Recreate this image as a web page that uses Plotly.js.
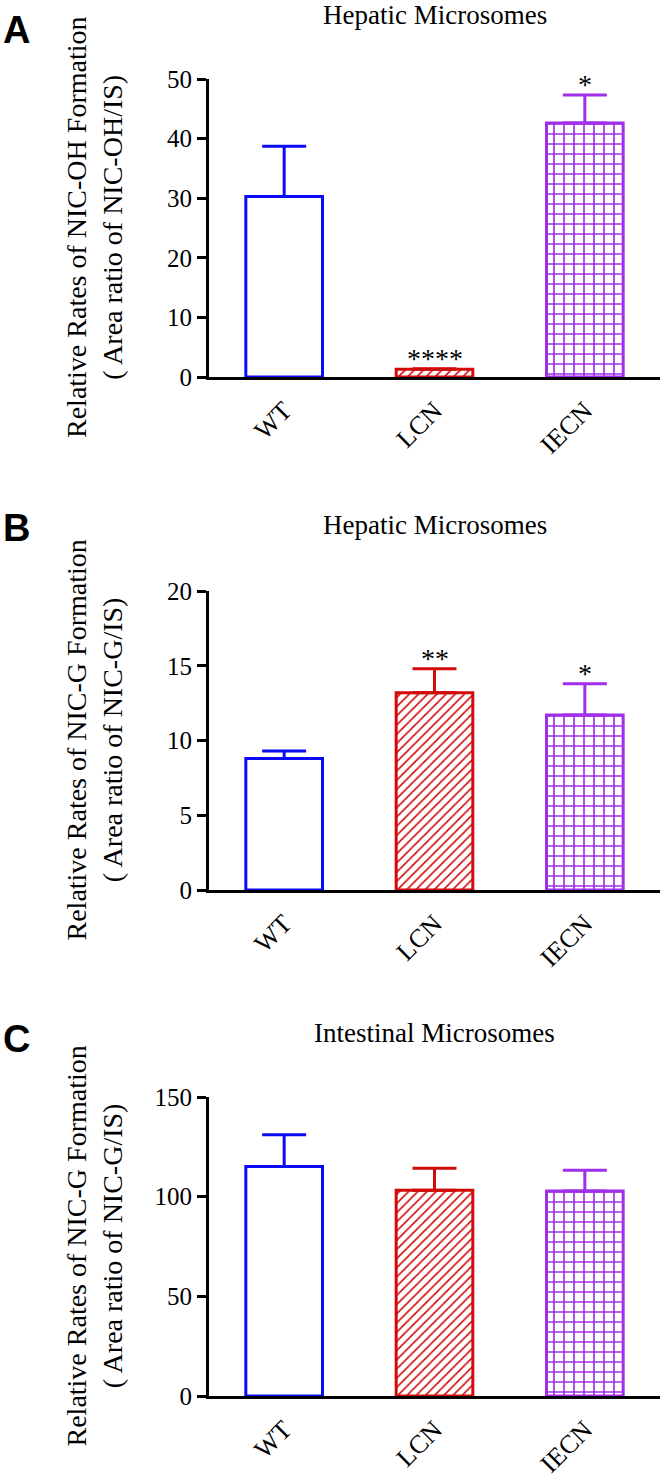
<!DOCTYPE html>
<html>
<head>
<meta charset="utf-8">
<script src="https://cdn.plot.ly/plotly-3.0.1.min.js"></script>
<style>
  html, body { margin: 0; padding: 0; background: #ffffff; }
  #chart { width: 666px; height: 1478px; }
</style>
</head>
<body>
<div id="chart"></div>
<script>
// ---------- data ----------
const categories = ['WT', 'LCN', 'IECN'];

const panelTitles = ['Hepatic Microsomes', 'Hepatic Microsomes', 'Intestinal Microsomes'];
const panelLetters = ['A', 'B', 'C'];
const yTitles = [
  'Relative Rates of NIC-OH Formation<br>( Area ratio of NIC-OH/IS)',
  'Relative Rates of NIC-G Formation<br>( Area ratio of NIC-G/IS)',
  'Relative Rates of NIC-G Formation<br>( Area ratio of NIC-G/IS)'
];

const meansA = [30.3, 1.3, 42.6];
const errA   = [8.4, 0.1, 4.7];
const starsA = ['', '****', '*'];

const meansB = [8.8, 13.2, 11.7];
const errB   = [0.5, 1.6, 2.1];
const starsB = ['', '**', '*'];

const meansC = [115.1, 103.2, 102.8];
const errC   = [16.0, 11.0, 10.4];
const starsC = ['', '', ''];

const yMax   = [50, 20, 150];
const yDtick = [10, 5, 50];

// ---------- styling ----------
const colors   = ['#0b0bf5', '#d10a0a', '#a12ee8'];
const patterns = ['', '/', '+'];
const patSize  = [8, 6.5, 10];
const patSolid = [0.2, 0.24, 0.3];
const serif = 'Liberation Serif, Times New Roman, serif';

const H = 1478;
const plotTopPx    = [79, 591, 1097];
const plotBottomPx = [377, 890, 1396];
const titlePx  = [15, 525, 1033];
const letterPx = [30, 528, 1039];

const allMeans = [meansA, meansB, meansC];
const allErr   = [errA, errB, errC];
const allStars = [starsA, starsB, starsC];

const traces = [];
const annotations = [];
const layout = {
  width: 666, height: 1478,
  margin: {l: 209, r: 6, t: 0, b: 0},
  paper_bgcolor: '#ffffff', plot_bgcolor: '#ffffff',
  showlegend: false,
  font: {family: serif, color: '#000000', size: 25},
  annotations: annotations
};

for (let p = 0; p < 3; p++) {
  const xa = p === 0 ? 'x' : 'x' + (p + 1);
  const ya = p === 0 ? 'y' : 'y' + (p + 1);
  const xKey = p === 0 ? 'xaxis' : 'xaxis' + (p + 1);
  const yKey = p === 0 ? 'yaxis' : 'yaxis' + (p + 1);

  for (let i = 0; i < categories.length; i++) {
    const marker = {
      color: '#ffffff',
      line: {color: colors[i], width: 3}
    };
    if (patterns[i]) {
      marker.pattern = {
        shape: patterns[i], fgcolor: colors[i], bgcolor: '#ffffff',
        size: patSize[i], solidity: patSolid[i], fillmode: 'replace'
      };
    }
    traces.push({
      type: 'bar',
      x: [categories[i]],
      y: [allMeans[p][i]],
      xaxis: xa, yaxis: ya,
      width: 0.51,
      marker: marker,
      error_y: {
        type: 'data', symmetric: false,
        array: [allErr[p][i]], arrayminus: [0],
        color: colors[i], thickness: 3, width: 22
      },
      hoverinfo: 'skip'
    });
    if (allStars[p][i]) {
      annotations.push({
        xref: xa, yref: ya,
        x: categories[i], y: allMeans[p][i] + allErr[p][i],
        text: allStars[p][i], showarrow: false,
        xanchor: 'center', yanchor: 'bottom', yshift: -7,
        font: {family: serif, size: 28, color: '#000000'}
      });
    }
  }

  const dom = [1 - plotBottomPx[p] / H, 1 - plotTopPx[p] / H];

  layout[xKey] = {
    domain: [0, 1], anchor: ya,
    type: 'category', categoryorder: 'array', categoryarray: categories,
    range: [-0.5, 2.5],
    showline: true, linecolor: '#000000', linewidth: 3,
    ticks: '', showgrid: false, zeroline: false,
    tickangle: -45, ticklabelstandoff: 5,
    tickfont: {family: serif, size: 26, color: '#000000'}
  };
  layout[yKey] = {
    domain: dom, anchor: xa,
    range: [0, yMax[p]], dtick: yDtick[p], tick0: 0,
    showline: true, linecolor: '#000000', linewidth: 3,
    ticks: 'outside', ticklen: 9, tickwidth: 3, tickcolor: '#000000',
    showgrid: false, zeroline: false,
    tickfont: {family: serif, size: 25, color: '#000000'}
  };

  // panel title
  annotations.push({
    xref: 'paper', yref: 'paper', x: 0.5, y: 1 - titlePx[p] / H,
    xanchor: 'center', yanchor: 'middle', showarrow: false,
    text: panelTitles[p],
    font: {family: serif, size: 27, color: '#000000'}
  });
  // panel letter
  annotations.push({
    xref: 'paper', yref: 'paper', x: (16 - 209) / 451, y: 1 - letterPx[p] / H,
    xanchor: 'center', yanchor: 'middle', showarrow: false,
    text: '<b>' + panelLetters[p] + '</b>',
    font: {family: 'Liberation Sans, Arial, sans-serif', size: 38, color: '#000000'}
  });
  // y-axis title
  annotations.push({
    xref: 'paper', yref: 'paper', x: (94 - 209) / 451, y: (dom[0] + dom[1]) / 2,
    xanchor: 'center', yanchor: 'middle', showarrow: false,
    textangle: -90,
    text: yTitles[p],
    font: {family: serif, size: 28, color: '#000000'}
  });
}

Plotly.newPlot('chart', traces, layout, {displayModeBar: false, staticPlot: true});
</script>
</body>
</html>
